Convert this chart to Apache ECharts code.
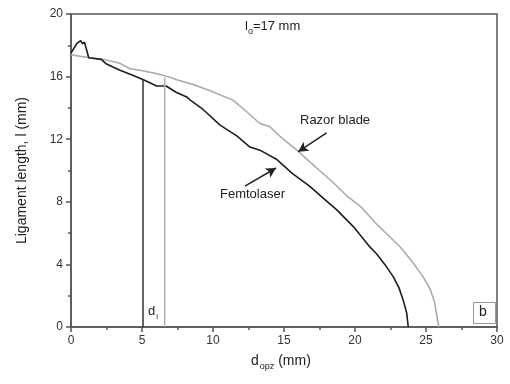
<!DOCTYPE html>
<html><head><meta charset="utf-8">
<script src="https://cdn.jsdelivr.net/npm/echarts@6/dist/echarts.min.js"></script>
<style>html,body{margin:0;padding:0;background:#fff}#c{width:510px;height:384px}</style>
</head><body><div id="c"></div>
<script>
// Femtolaser curve (d_opz mm, ligament length mm)
const femtoX = [0, 0.4, 0.68, 0.8, 0.95, 1.06, 1.25, 2.13, 2.5, 3.45, 4.3, 5.1, 6.03, 6.7, 7.4, 8.15, 8.4, 9.3, 10.5, 11.7, 12.6, 13.3, 14.5, 15.6, 16.8, 17.8, 18.7, 19.9, 21.06, 21.5, 22.1, 22.7, 23.1, 23.4, 23.64, 23.75];
const femtoY = [17.5, 18.1, 18.3, 18.1, 18.2, 18.3, 17.2, 17.1, 16.8, 16.4, 16.1, 15.8, 15.4, 15.4, 15.0, 14.7, 14.5, 13.9, 12.9, 12.2, 11.5, 11.3, 10.7, 9.8, 9.0, 8.2, 7.5, 6.4, 5.1, 4.7, 4.0, 3.2, 2.5, 1.7, 0.9, 0];
// Razor blade curve
const razorX = [0, 0.63, 1.34, 2.3, 3.45, 4.15, 4.86, 6.0, 7.0, 7.45, 8.6, 9.8, 11.4, 12.2, 12.8, 13.3, 14.0, 14.7, 15.9, 17.5, 18.5, 19.4, 20.4, 21.5, 22.3, 23.2, 24.0, 24.8, 25.3, 25.6, 25.9];
const razorY = [17.4, 17.3, 17.2, 17.1, 16.85, 16.5, 16.4, 16.2, 15.95, 15.8, 15.5, 15.1, 14.5, 13.9, 13.4, 13.0, 12.8, 12.2, 11.3, 10.0, 9.2, 8.4, 7.7, 6.6, 5.9, 5.1, 4.2, 3.2, 2.4, 1.6, 0];
// initiation markers d_i
const diFemto = [[5.07, 0], [5.07, 15.8]];
const diRazor = [[6.6, 0], [6.6, 15.95]];
// axis ticks
const xTicks = [0, 5, 10, 15, 20, 25, 30];
const yTicks = [0, 4, 8, 12, 16, 20];

const zip = (a, b) => a.map((v, i) => [v, b[i]]);
const chart = echarts.init(document.getElementById('c'));
const axisCol = '#555';
const font = 'Liberation Sans, Arial, sans-serif';
const xMin = xTicks[0], xMax = xTicks[xTicks.length - 1];
const yMin = yTicks[0], yMax = yTicks[yTicks.length - 1];
const minorAxis = (min, max, interval, pos) => ({
  type: 'value', min, max, interval, position: pos, gridIndex: 0,
  axisLine: { show: false }, axisLabel: { show: false }, splitLine: { show: false },
  axisTick: { show: true, inside: false, length: 3, lineStyle: { color: axisCol, width: 1.5 } }
});
chart.setOption({
  animation: false,
  grid: { left: 71, right: 13, top: 14, bottom: 57, show: true, borderColor: axisCol, borderWidth: 1.5, backgroundColor: 'transparent' },
  xAxis: [{
    type: 'value', min: xMin, max: xMax, interval: 5, position: 'bottom',
    axisLine: { onZero: false, lineStyle: { color: axisCol, width: 1.5 } },
    axisTick: { inside: false, length: 5, lineStyle: { color: axisCol, width: 1.5 } },
    splitLine: { show: false },
    axisLabel: { color: '#333', fontSize: 12, fontFamily: font, margin: 8 }
  }, minorAxis(xMin, xMax, 2.5, 'bottom')],
  yAxis: [{
    type: 'value', min: yMin, max: yMax, interval: 4, position: 'left',
    name: 'Ligament length, l (mm)', nameLocation: 'middle', nameGap: 42,
    nameTextStyle: { color: '#222', fontSize: 14, fontFamily: font },
    axisLine: { onZero: false, lineStyle: { color: axisCol, width: 1.5 } },
    axisTick: { inside: false, length: 5, lineStyle: { color: axisCol, width: 1.5 } },
    splitLine: { show: false },
    axisLabel: { color: '#333', fontSize: 12, fontFamily: font, margin: 8 }
  }, minorAxis(yMin, yMax, 2, 'left')],
  series: [
    { type: 'line', data: zip(razorX, razorY), symbol: 'none', lineStyle: { color: '#a8a8a8', width: 1.5 },
      markLine: { silent: true, symbol: ['none', 'arrow'], symbolSize: [8, 10], lineStyle: { color: '#222', width: 1.5, type: 'solid' }, label: { show: false },
        data: [[{ coord: [18.0, 12.4] }, { coord: [16.0, 11.2] }]] } },
    { type: 'line', data: zip(femtoX, femtoY), symbol: 'none', lineStyle: { color: '#1e1e1e', width: 1.6 },
      markLine: { silent: true, symbol: ['none', 'arrow'], symbolSize: [8, 10], lineStyle: { color: '#222', width: 1.5, type: 'solid' }, label: { show: false },
        data: [[{ coord: [12.25, 9.0] }, { coord: [14.44, 10.16] }]] } },
    { type: 'line', data: diFemto, symbol: 'none', lineStyle: { color: '#333', width: 1.5 } },
    { type: 'line', data: diRazor, symbol: 'none', lineStyle: { color: '#b0b0b0', width: 1.5 } }
  ],
  graphic: [
    { type: 'text', left: 245, top: 20, style: { text: '{a|l}{s|o}{a|=17 mm}', fill: '#222', font: '13px ' + font,
      rich: { a: { fontSize: 13, fontFamily: font, fill: '#222' }, s: { fontSize: 9, fontFamily: font, fill: '#222', verticalAlign: 'bottom', padding: [10, 0, 0, 0] } } } },
    { type: 'text', left: 300, top: 114, style: { text: 'Razor blade', fill: '#222', font: '13px ' + font } },
    { type: 'text', left: 220, top: 188, style: { text: 'Femtolaser', fill: '#222', font: '13px ' + font } },
    { type: 'text', left: 148, top: 305, style: { text: '{a|d}{s|i}', rich: { a: { fontSize: 13, fontFamily: font, fill: '#222' }, s: { fontSize: 8, fontFamily: font, fill: '#222', padding: [10, 0, 0, 1] } } } },
    { type: 'rect', left: 473, top: 302, shape: { width: 22, height: 21 }, style: { fill: '#fff', stroke: '#999', lineWidth: 1 } },
    { type: 'text', left: 479, top: 305, style: { text: 'b', fill: '#222', font: '14px ' + font } },
    { type: 'text', left: 251, top: 354, style: { text: '{a|d}{s|opz}{a| (mm)}', rich: { a: { fontSize: 14, fontFamily: font, fill: '#222' }, s: { fontSize: 9, fontFamily: font, fill: '#222', padding: [12, 0, 0, 1] } } } }
  ]
});
</script></body></html>
